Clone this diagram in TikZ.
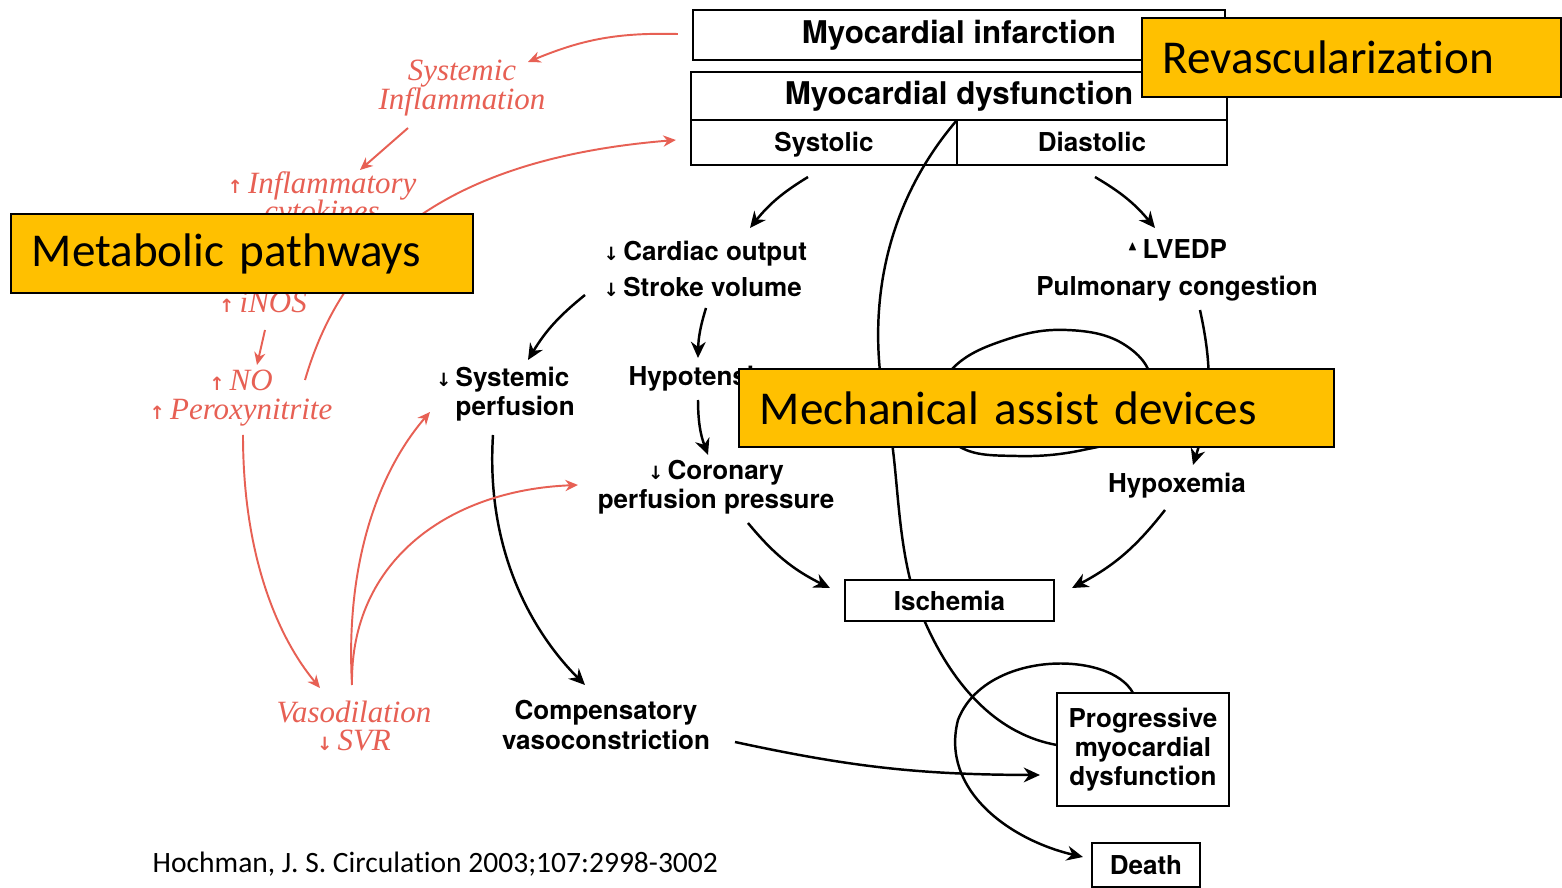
\documentclass[tikz,border=0pt]{standalone}
\usepackage{fontspec}
\usepackage{amssymb}
\setmainfont{Liberation Serif}
\newfontfamily\hvfont{TeX Gyre Heros}
\newfontfamily\calfont[Ligatures=NoCommon]{Carlito}
\newfontfamily\arrowfont{DejaVu Sans}
\usetikzlibrary{arrows.meta,calc,backgrounds}

\definecolor{inflred}{RGB}{231,96,84}
\definecolor{gold}{RGB}{255,192,0}

\newcommand{\bodyfont}{\hvfont\bfseries\fontsize{7.4}{8.3}\selectfont}
\newcommand{\titlefont}{\hvfont\bfseries\fontsize{8.9}{10}\selectfont}
\newcommand{\inflfont}{\itshape\fontsize{8.8}{8.2}\selectfont}
\newcommand{\notefont}{\calfont\fontsize{13.4}{15}\selectfont}
\newcommand{\citefont}{\calfont\fontsize{8.4}{10}\selectfont}
\newcommand{\decr}{{\arrowfont\bfseries\fontsize{5.2}{5}\selectfont ↓}}
\newcommand{\incr}{{\arrowfont\bfseries\fontsize{5.2}{5}\selectfont ↑}}
\newcommand{\tri}{\raisebox{0.55ex}{$\scriptscriptstyle\blacktriangle$}}

\begin{document}
\begin{tikzpicture}[
  x=0.01cm, y=-0.01cm,
  box/.style={draw, line width=0.7pt, fill=white, inner sep=0pt,
              outer sep=0pt, font=\bodyfont},
  lbl/.style={inner sep=0pt, align=center, font=\bodyfont},
  infl/.style={inner sep=0pt, align=center, font=\inflfont, text=inflred},
  note/.style={draw, line width=0.6pt, fill=gold, inner sep=0pt,
               inner xsep=0.21cm, align=left, font=\notefont},
  flow/.style={-{Stealth[length=4.6pt,width=4.2pt]}, line width=0.7pt},
  rflow/.style={-{Stealth[length=3.6pt,width=3.2pt]}, line width=0.55pt,
                draw=inflred},
  curl/.style={line width=0.7pt},
]
\useasboundingbox (0,0) rectangle (1562,888);

% ---- top boxes ----------------------------------------------------------
\node[box, minimum width=5.32cm, minimum height=0.50cm, font=\titlefont]
  (mi) at (959,35) {Myocardial infarction};
\node[box, minimum width=5.36cm, minimum height=0.48cm, font=\titlefont]
  (md) at (959,96) {Myocardial dysfunction};
\node[box, fill=none, minimum width=2.66cm, minimum height=0.45cm,
      text height=1.6ex, text depth=0.45ex]
  (sys) at (824,142.5) {Systolic};
\node[box, fill=none, minimum width=2.70cm, minimum height=0.45cm,
      text height=1.6ex, text depth=0.45ex]
  (dia) at (1092,142.5) {Diastolic};

% ---- systolic branch ----------------------------------------------------
\node[lbl, anchor=west, align=left] (co) at (603,269)
  {\decr\,Cardiac output\\[2.2pt]\decr\,Stroke volume};
\node[lbl, anchor=west, align=left] (sp) at (455,394)
  {\llap{\decr\,}Systemic\\perfusion};
\node[lbl, anchor=west] (hy) at (628,379) {Hypotension};
\node[lbl] (cp) at (716,487) {\decr\,Coronary\\perfusion pressure};
\node[lbl] (cv) at (606,725) {Compensatory\\vasoconstriction};

% ---- diastolic branch ---------------------------------------------------
\node[lbl] (lv) at (1177,270) {\tri\,LVEDP\\[2.2pt]Pulmonary congestion};
\node[lbl] (hx) at (1177,486) {Hypoxemia};

% ---- outcome boxes ------------------------------------------------------
\node[box, minimum width=2.09cm, minimum height=0.41cm]
  (is) at (949.5,600.5) {Ischemia};
\node[box, minimum width=1.72cm, minimum height=1.13cm, align=center]
  (pm) at (1143,749.5) {Progressive\\myocardial\\dysfunction};
\node[box, minimum width=1.08cm, minimum height=0.44cm]
  (de) at (1146,865) {Death};

% ---- inflammatory side --------------------------------------------------
\node[infl] (si)   at (462,88)  {Systemic\\Inflammation};
\node[infl] (ic)   at (322,200) {\incr\,Inflammatory\\cytokines};
\node[infl] (inos) at (263,302) {\incr\,iNOS};
\node[infl] (no)   at (241,398) {\incr\,NO\\\incr\,Peroxynitrite};
\node[infl] (vs)   at (354,726) {Vasodilation\\\decr\,SVR};

\node[anchor=west, inner sep=0pt, font=\citefont] (cite) at (152,864)
  {Hochman, J. S. Circulation 2003;107:2998-3002};

% ---- connectors, kept behind the boxes ----------------------------------
\begin{scope}[on background layer]
\fill[white] (0,0) rectangle (1562,888);

\draw[flow] ($(sys.south)+(-16,12)$) to[bend right=10] ($(co.west)+(147,-41)$);
\draw[flow] ($(dia.south)+(3,12)$)   to[bend left=10]  ($(lv)+(-22,-42)$);
\draw[flow] ($(co.west)+(-18,26)$)   to[bend right=10] ($(sp.west)+(73,-34)$);
\draw[flow] ($(co.west)+(103,39)$)   to[bend right=8]  ($(hy.west)+(70,-21)$);
\draw[flow] ($(hy.west)+(70,21)$)    to[bend right=10] ($(cp)+(-8,-32)$);
\draw[flow] ($(cp)+(32,36)$)         to[bend right=12] ($(is.west)+(-15,-12.5)$);
\draw[flow] ($(lv)+(23,40)$)         to[bend left=15]  ($(hx)+(16,-21)$);
\draw[flow] ($(hx)+(-12,24)$)        to[bend left=12]  ($(is.east)+(18,-12.5)$);
\draw[flow] ($(sp.west)+(38,41)$) .. controls (485,560) and (540,640)
  .. ($(cv)+(-21,-40)$);
\draw[flow] ($(cv)+(129,17)$)        to[bend right=6]  ($(pm.west)+(-17,25.5)$);

% the downward spiral
\draw[curl] ($(md.south)+(-2,0)$) .. controls (880,210) and (865,320)
  .. (888,420) .. controls (900,472) and (895,560)
  .. (925,622) .. controls (955,690) and (1000,735) .. ($(pm.west)+(0,-4.5)$);
\draw[curl] plot[smooth cycle, tension=0.7] coordinates
  {(953,368) (1005,340) (1067,330) (1125,345) (1152,385) (1130,432)
   (1083,450) (1017,456) (960,447) (935,410)};
\draw[flow] ($(pm.north)+(-10,0)$) .. controls (1110,650) and (985,650)
  .. (958,720) .. controls (940,790) and (1010,840) .. ($(de.west)+(-9,-8)$);

% inflammatory pathway
\draw[rflow] ($(mi.west)+(-15,-1)$) to[bend right=12] ($(si)+(66,-26)$);
\draw[rflow] ($(si)+(-54,40)$)  -- ($(ic)+(38,-30)$);
\draw[rflow] ($(inos)+(2,28)$)  -- ($(no)+(16,-33)$);
\draw[rflow] ($(no)+(64,-18)$) .. controls (340,260) and (430,160)
  .. ($(sys.west)+(-15,-2.5)$);
\draw[rflow] ($(no)+(2,37)$) .. controls (243,560) and (280,640)
  .. ($(vs)+(-34,-38)$);
\draw[rflow] ($(vs)+(-2,-41)$) .. controls (345,560) and (380,470)
  .. ($(sp.west)+(-25,18)$);
\draw[rflow] ($(vs)+(-2,-41)$) .. controls (350,560) and (450,490)
  .. ($(cp)+(-138,-2)$);
\end{scope}

% ---- treatment callouts -------------------------------------------------
\node[note, text width=3.77cm, minimum height=0.79cm]
  (rev) at (1351.5,57.5) {Revascularization};
\node[note, text width=4.20cm, minimum height=0.79cm]
  (met) at (242,253.5) {Metabolic pathways};
\node[note, text width=5.53cm, minimum height=0.78cm]
  (mech) at (1036.5,408) {Mechanical assist devices};

\end{tikzpicture}
\end{document}
